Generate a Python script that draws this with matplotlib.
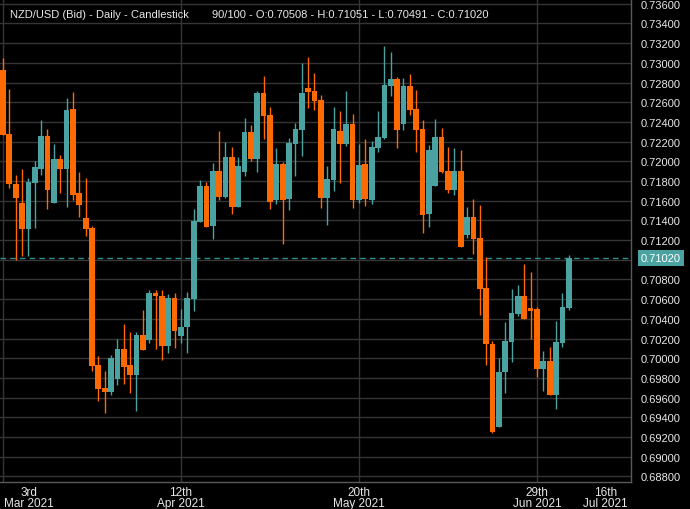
import matplotlib
matplotlib.use('Agg')
import matplotlib.pyplot as plt
import numpy as np
from matplotlib.transforms import ScaledTranslation, blended_transform_factory
from matplotlib.ticker import FuncFormatter

plt.rcParams['font.family'] = ['Liberation Sans', 'DejaVu Sans']

# ---- data (daily OHLC, NZD/USD bid) ----
opens = [0.72929, 0.72278, 0.71773, 0.71576, 0.71315, 0.71783, 0.71925, 0.72258, 0.71580, 0.72024,
         0.71925, 0.72532, 0.71678, 0.71424, 0.71322, 0.69929, 0.69698, 0.69658, 0.69790, 0.70092,
         0.69929, 0.69831, 0.70234, 0.70186, 0.70658, 0.70631, 0.70125, 0.70610, 0.70227, 0.70318,
         0.70603, 0.71386, 0.71749, 0.71346, 0.71902, 0.71634, 0.72044, 0.71539, 0.71895, 0.72298,
         0.72024, 0.72695, 0.72471, 0.71610, 0.71973, 0.71620, 0.72176, 0.72322, 0.72746, 0.72715,
         0.72624, 0.71627, 0.71810, 0.72308, 0.72176, 0.72380, 0.71610, 0.71973, 0.71610, 0.72136,
         0.72237, 0.72770, 0.72837, 0.72380, 0.72766, 0.72532, 0.72329, 0.71464, 0.71749, 0.72248,
         0.71902, 0.71708, 0.71902, 0.71251, 0.71434, 0.71220, 0.70712, 0.70149, 0.69302, 0.69861,
         0.70166, 0.70447, 0.70631, 0.70509, 0.70498, 0.69892, 0.69973, 0.69627, 0.70156, 0.70508]
highs = [0.73051, 0.72736, 0.71861, 0.71922, 0.71831, 0.72003, 0.72420, 0.72329, 0.72176, 0.72064,
         0.72644, 0.72705, 0.71892, 0.71831, 0.71346, 0.70020, 0.69871, 0.70034, 0.70193, 0.70346,
         0.70264, 0.70271, 0.70488, 0.70698, 0.70698, 0.70688, 0.70651, 0.70661, 0.70498, 0.70671,
         0.71515, 0.71810, 0.71790, 0.71983, 0.72309, 0.72197, 0.72146, 0.72044, 0.72441, 0.72370,
         0.72715, 0.72868, 0.72553, 0.72136, 0.71993, 0.72237, 0.72390, 0.73000, 0.73061, 0.72898,
         0.72675, 0.71953, 0.72553, 0.72512, 0.72715, 0.72481, 0.72176, 0.72227, 0.72207, 0.72512,
         0.73173, 0.73112, 0.72858, 0.72848, 0.72888, 0.72725, 0.72420, 0.72166, 0.72431, 0.72339,
         0.72146, 0.72136, 0.72115, 0.71536, 0.71617, 0.71556, 0.71027, 0.70173, 0.70000, 0.70366,
         0.70702, 0.70742, 0.70956, 0.70875, 0.70519, 0.70071, 0.70112, 0.70376, 0.70661, 0.71051]
lows = [0.72264, 0.71729, 0.71000, 0.71041, 0.71041, 0.71325, 0.71864, 0.71519, 0.71573, 0.71681,
        0.71539, 0.71607, 0.71437, 0.71244, 0.69871, 0.69566, 0.69444, 0.69627, 0.69729, 0.69739,
        0.69648, 0.69464, 0.70080, 0.70153, 0.70095, 0.69983, 0.70054, 0.70105, 0.70156, 0.70054,
        0.70481, 0.71380, 0.71335, 0.71210, 0.71610, 0.71631, 0.71468, 0.71535, 0.71854, 0.72003,
        0.71892, 0.72227, 0.71519, 0.71570, 0.71163, 0.71509, 0.71854, 0.72054, 0.72542, 0.72522,
        0.71525, 0.71353, 0.71698, 0.71780, 0.72156, 0.71529, 0.71580, 0.71549, 0.71570, 0.72095,
        0.72230, 0.72664, 0.72136, 0.72319, 0.72471, 0.72095, 0.71271, 0.71332, 0.71745, 0.71881,
        0.71678, 0.71658, 0.71129, 0.71220, 0.71058, 0.70441, 0.69932, 0.69241, 0.69300, 0.69648,
        0.69963, 0.70427, 0.70400, 0.70197, 0.69810, 0.69668, 0.69627, 0.69485, 0.70115, 0.70491]
closes = [0.72271, 0.71773, 0.71627, 0.71315, 0.71790, 0.71942, 0.72258, 0.71712, 0.72024, 0.71925,
          0.72522, 0.71661, 0.71559, 0.71315, 0.69922, 0.69688, 0.69658, 0.70003, 0.70092, 0.69912,
          0.69831, 0.70234, 0.70085, 0.70658, 0.70634, 0.70125, 0.70610, 0.70278, 0.70315, 0.70610,
          0.71393, 0.71749, 0.71336, 0.71902, 0.71641, 0.72044, 0.71539, 0.71953, 0.72298, 0.72024,
          0.72695, 0.72461, 0.71590, 0.71973, 0.71610, 0.72186, 0.72329, 0.72695, 0.72708, 0.72614,
          0.71627, 0.71820, 0.72329, 0.72176, 0.72380, 0.71610, 0.71963, 0.71620, 0.72146, 0.72248,
          0.72776, 0.72837, 0.72319, 0.72766, 0.72522, 0.72319, 0.71454, 0.72115, 0.72248, 0.71892,
          0.71709, 0.71902, 0.71129, 0.71434, 0.71210, 0.70705, 0.70146, 0.69251, 0.69858, 0.70173,
          0.70458, 0.70631, 0.70400, 0.70481, 0.69892, 0.69973, 0.69627, 0.70166, 0.70522, 0.71020]

date_tick_index = [0, 28, 56, 84, 97]
date_tick_labels = ['3rd\nMar 2021', '12th\nApr 2021', '20th\nMay 2021', '29th\nJun 2021', '16th\nJul 2021']
price_ticks = [round(0.688 + 0.002 * k, 3) for k in range(25)]
last_price = 0.71020

title_left = 'NZD/USD (Bid) - Daily - Candlestick'
title_right = '90/100 - O:0.70508 - H:0.71051 - L:0.70491 - C:0.71020'

TEAL = '#4aa3a0'
ORANGE = '#ff6a00'
GRID = '#353535'
TEXT = '#e8e8e8'

W, H = 690, 510
fig = plt.figure(figsize=(W / 100, H / 100), dpi=100, facecolor='black')
ax = fig.add_axes([0, 27 / H, 631 / W, 483 / H])
ax.set_facecolor('black')

o = np.array(opens); h = np.array(highs); l = np.array(lows); c = np.array(closes)
x = np.arange(len(o))
cols = np.where(c >= o, TEAL, ORANGE)

ax.vlines(x, l, h, colors=cols, linewidth=1.0, zorder=3)
bottom = np.minimum(o, c)
height = np.maximum(np.abs(c - o), 0.00009)
ax.bar(x, height, bottom=bottom, width=0.9, color=cols, linewidth=0, zorder=4)

ax.set_xlim(-0.472, 98.79)
ax.set_ylim(0.687427, 0.736488)

# grid
ax.set_yticks(price_ticks)
ax.yaxis.grid(True, color=GRID, linewidth=1.0, zorder=0)
ax.set_axisbelow(True)
for xi in date_tick_index[:4]:
    ax.axvline(xi, color=GRID, linewidth=1.0, zorder=1)

# y axis on right
ax.yaxis.tick_right()
ax.yaxis.set_major_formatter(FuncFormatter(lambda v, p: '' if abs(v - 0.710) < 1e-6 else f'{v:.5f}'))
ax.tick_params(axis='y', length=0, pad=7, labelsize=8, labelcolor=TEXT)

# x axis
ax.set_xticks(date_tick_index)
ax.set_xticklabels(date_tick_labels)
ax.tick_params(axis='x', length=0, pad=3, labelsize=8.5, labelcolor=TEXT)
xl = ax.get_xticklabels()
for t in xl:
    t.set_multialignment('center')
    t.set_linespacing(0.92)
xl[0].set_horizontalalignment('left')
xl[0].set_transform(xl[0].get_transform() + ScaledTranslation(1 / 100, 0, fig.dpi_scale_trans))
xl[-1].set_horizontalalignment('right')
xl[-1].set_transform(xl[-1].get_transform() + ScaledTranslation(8 / 100, 0, fig.dpi_scale_trans))

for s in ['left', 'top']:
    ax.spines[s].set_visible(False)
for s in ['right', 'bottom']:
    ax.spines[s].set_color('#5a5a5a')
    ax.spines[s].set_linewidth(1.0)

# last price line and label
ax.axhline(last_price, color='#2f8f8c', linewidth=1.0, linestyle=(0, (4, 3)), zorder=2)
trans = blended_transform_factory(ax.transAxes, ax.transData) + ScaledTranslation(10 / 100, 0, fig.dpi_scale_trans)
ax.text(1.0, last_price, f'{last_price:.5f}', transform=trans, ha='left', va='center',
        fontsize=8, color='white', clip_on=False,
        bbox=dict(boxstyle='square,pad=0.28', facecolor=TEAL, edgecolor='none'))

fig.text(10 / W, 1 - 15 / H, title_left, fontsize=8, color=TEXT, va='center', ha='left')
fig.text(212 / W, 1 - 15 / H, title_right, fontsize=8, color=TEXT, va='center', ha='left')

fig.savefig('out.png', dpi=100, facecolor='black')
